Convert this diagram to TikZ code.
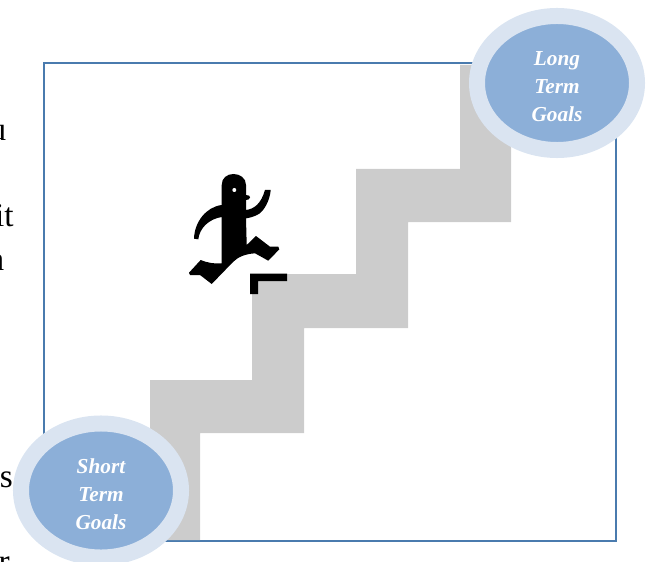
\documentclass[tikz,border=0pt]{standalone}
\usepackage{fontspec}
\setmainfont{Liberation Serif}
\usetikzlibrary{shapes.geometric}
\definecolor{keret}{HTML}{4A7BAE}
\definecolor{lepcso}{HTML}{CCCCCC}
\definecolor{belso}{HTML}{8CAFD8}
\definecolor{kulso}{HTML}{DAE4F1}
\tikzset{
  cel/.style={ellipse,draw=kulso,fill=belso,line width=0.4224cm,minimum width=4.224cm,minimum height=3.538cm,inner sep=0pt},
  felirat/.style={align=center,inner sep=0pt,text=white,font=\fontsize{16}{21}\selectfont\bfseries\itshape},
  szel/.style={anchor=base east,inner sep=0pt,font=\fontsize{25}{29}\selectfont},
}
\begin{document}
\begin{tikzpicture}[x=0.0264cm,y=-0.0264cm]
  \useasboundingbox (0,0) rectangle (650,562);
  % cut off text left of the frame
  \node[szel] (tu) at (6.5,141) {u};
  \node[szel] (tit) at (14,226.5) {it};
  \node[szel] (tn) at (4.5,270) {n};
  \node[szel] (ts) at (13,487) {s};
  \node[szel] (tr) at (10,572) {r};
  \draw[keret,line width=2.8*0.0264cm] (44,63) rectangle (616,541);
  % stairs
  \fill[lepcso] (150,540) -- (150,380) -- (252,380) -- (252,274) -- (356,274) -- (356,169) -- (460,169)
    -- (460,65) -- (511,65) -- (511,222) -- (408,222) -- (408,328) -- (304,328) -- (304,433)
    -- (200,433) -- (200,540) -- cycle;
  % runner
  \fill[black] (221.7,185) .. controls (221.7,178) and (227,174) .. (233.5,174)
    .. controls (240,174) and (246,178) .. (246,185) -- (246,195)
    .. controls (249,195) and (250,196) .. (250,197.5) .. controls (250,199) and (248,200) .. (246,200)
    -- (246,210) .. controls (254,209) and (261,204) .. (265,190) -- (270.7,190)
    .. controls (270,200) and (264,212) .. (257,215) .. controls (253,217) and (249,218) .. (246,218.3)
    -- (246.7,245) -- (256,236) -- (270,246.7) -- (278.3,246.7) -- (279.3,249.3) -- (268.3,260.7)
    -- (255,253.3) .. controls (245,254) and (238,257) .. (233,262) -- (211.7,284) -- (200,275)
    -- (190,275) -- (189,272.7) -- (200.7,260) .. controls (208,263) and (215,264) .. (221.7,263.3)
    -- (221.7,217) .. controls (209,219) and (199.5,228) .. (198.3,239.3) -- (194,238.7)
    .. controls (194.5,222) and (206,207) .. (221.7,205) -- cycle;
  \fill[white] (234.3,190) circle (2*0.0264cm);
  \fill[black] (250,273.5) -- (287,273.5) -- (287,281) -- (258,281) -- (258,294) -- (250,294) -- cycle;
  % goals
  \node[cel] (rovid) at (101,490.5) {};
  \node[felirat] (rovidt) at (101,494.5) {Short\\Term\\Goals};
  \node[cel] (hosszu) at (557,83) {};
  \node[felirat] (hosszut) at (557,87) {Long\\Term\\Goals};
\end{tikzpicture}
\end{document}
